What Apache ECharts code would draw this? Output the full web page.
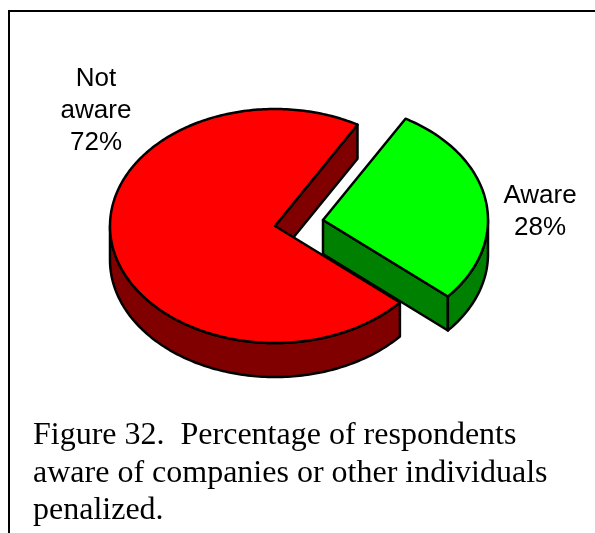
<!DOCTYPE html>
<html>
<head>
<meta charset="utf-8">
<title>Figure 32</title>
<script src="https://cdn.jsdelivr.net/npm/echarts@6/dist/echarts.min.js"></script>
<style>
  html, body { margin: 0; padding: 0; background: #fff; }
  #chart { width: 595px; height: 533px; }
</style>
</head>
<body>
<div id="chart"></div>
<script>
// data
const categories = ['Aware', 'Not\naware']
const percents = [28, 72]
const captionLines = [
  'Figure 32.  Percentage of respondents',
  'aware of companies or other individuals',
  'penalized.'
]

// pie drawing setup
const cx = 275, cy = 226, rx = 165, ry = 117, depth = 34
const startAngle = -60
const sliceOffsets = [[48, -6], [0, 0]]
const topColors = ['#00ff00', '#ff0000']
const sideColors = ['#008000', '#800000']
const labelSpots = [[540, 212], [96, 111]]

const chart = echarts.init(document.getElementById('chart'))

function rimPoints(x0, y0, from, to) {
  let pts = []
  let steps = Math.max(1, Math.ceil(Math.abs(to - from)))
  for (let i = 0; i <= steps; i++) {
    let t = (from + (to - from) * i / steps) * Math.PI / 180
    pts.push([x0 + rx * Math.cos(t), y0 + ry * Math.sin(t)])
  }
  return pts
}

function face(points, color) {
  return {
    type: 'polygon',
    shape: { points: points },
    style: { fill: color, stroke: '#000', lineWidth: 2.5, lineJoin: 'round' }
  }
}

function sliceAngles(index) {
  let total = percents.reduce((a, b) => a + b, 0)
  let before = percents.slice(0, index).reduce((a, b) => a + b, 0)
  return [
    startAngle + before / total * 360,
    startAngle + (before + percents[index]) / total * 360
  ]
}

function renderSlice(params, api) {
  let i = params.dataIndex
  let [from, to] = sliceAngles(i)
  let x0 = cx + sliceOffsets[i][0]
  let y0 = cy + sliceOffsets[i][1]
  let children = []

  // cut face at the end of the sweep, turned to the viewer
  let endRim = rimPoints(x0, y0, to, to)[0]
  children.push(face([
    [x0, y0], endRim, [endRim[0], endRim[1] + depth], [x0, y0 + depth]
  ], sideColors[i]))

  // outer wall, front half of the rim only
  let wallFrom = Math.max(from, 0), wallTo = Math.min(to, 180)
  if (wallTo > wallFrom) {
    let upper = rimPoints(x0, y0, wallFrom, wallTo)
    let lower = rimPoints(x0, y0 + depth, wallTo, wallFrom)
    children.push(face(upper.concat(lower), sideColors[i]))
  }

  // top surface
  children.push(face([[x0, y0]].concat(rimPoints(x0, y0, from, to)), topColors[i]))

  children.push({
    type: 'text',
    style: {
      x: labelSpots[i][0],
      y: labelSpots[i][1],
      text: categories[i] + '\n' + api.value(0) + '%',
      fill: '#000',
      font: '26px "Liberation Sans", Arial, sans-serif',
      lineHeight: 32,
      align: 'center',
      verticalAlign: 'middle'
    }
  })
  return { type: 'group', children: children }
}

let option = {
  backgroundColor: '#fff',
  animation: false,
  graphic: [
    { type: 'line', silent: true, shape: { x1: 9, y1: 11, x2: 595, y2: 11 }, style: { stroke: '#000', lineWidth: 2 } },
    { type: 'line', silent: true, shape: { x1: 9, y1: 10, x2: 9, y2: 533 }, style: { stroke: '#000', lineWidth: 2 } }
  ].concat(captionLines.map((line, i) => ({
    type: 'text',
    silent: true,
    style: {
      x: 33,
      y: 436 + i * 37.5,
      text: line,
      fill: '#000',
      font: '32px "Liberation Serif", "Times New Roman", serif',
      verticalAlign: 'middle'
    }
  }))),
  series: [{
    type: 'custom',
    coordinateSystem: 'none',
    silent: true,
    renderItem: renderSlice,
    data: percents.map(v => [v])
  }]
}
chart.setOption(option)
</script>
</body>
</html>
